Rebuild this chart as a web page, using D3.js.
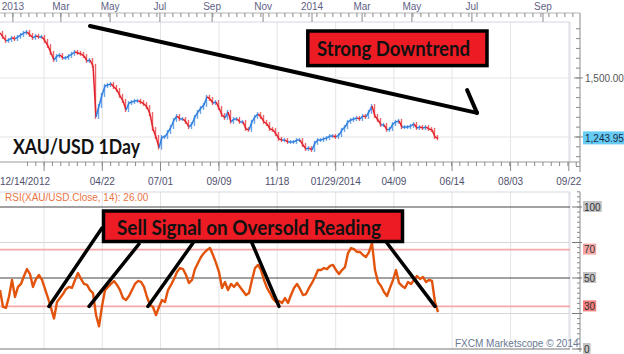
<!DOCTYPE html>
<html>
<head>
<meta charset="utf-8">
<script src="https://cdn.jsdelivr.net/npm/d3@7"></script>
<style>
  body { margin: 0; background: #fff; }
  svg { display: block; }
</style>
</head>
<body>
<div id="chart"></div>
<script>
// daily closes of XAU/USD, sampled every ~2.5 bars (slot = one sample)
const closes = [
  1691, 1674, 1657, 1661, 1670, 1665, 1674, 1682, 1691, 1695,
  1682, 1670, 1678, 1674, 1674, 1657, 1636, 1606, 1576, 1593,
  1597, 1585, 1585, 1593, 1602, 1610, 1606, 1602, 1593, 1572,
  1576, 1551, 1335, 1381, 1428, 1466, 1470, 1475, 1462, 1449,
  1424, 1403, 1364, 1394, 1398, 1403, 1403, 1398, 1390, 1377,
  1347, 1284, 1250, 1205, 1250, 1250, 1271, 1292, 1322, 1339,
  1326, 1326, 1314, 1292, 1305, 1335, 1356, 1373, 1386, 1420,
  1411, 1394, 1398, 1373, 1343, 1331, 1356, 1314, 1326, 1326,
  1314, 1314, 1284, 1280, 1314, 1335, 1347, 1335, 1314, 1305,
  1284, 1280, 1263, 1242, 1237, 1237, 1229, 1229, 1229, 1237,
  1237, 1216, 1199, 1203, 1195, 1225, 1237, 1237, 1242, 1246,
  1254, 1254, 1250, 1258, 1280, 1292, 1314, 1322, 1326, 1331,
  1326, 1339, 1335, 1356, 1381, 1339, 1322, 1301, 1301, 1280,
  1284, 1305, 1314, 1318, 1292, 1292, 1292, 1297, 1305, 1288,
  1292, 1288, 1292, 1284, 1280, 1250, 1244,
];

// RSI(14) on the same slots
const rsi = [
  41.5, 29.6, 29, 37, 48.6, 36.6, 43.7, 45.8, 51.4, 56.3,
  52.8, 43.7, 49.3, 52.1, 48.6, 42.3, 35.9, 28.9, 21.5, 33.1,
  35.9, 38.7, 42.3, 43.7, 43.0, 48.6, 53.5, 49.3, 45.8, 45.1,
  41.5, 39.4, 24, 16, 30, 41.5, 43.7, 45.8, 47.9, 45.1,
  41.5, 35.9, 34.5, 37.3, 41.5, 45.8, 47.9, 47.2, 43.7, 36.6,
  31.0, 29.6, 23.9, 29.6, 34.5, 33.1, 41.5, 45.1, 49.3, 54.2,
  57.0, 56.3, 52.1, 46.5, 48.6, 56.3, 60.6, 64.8, 67.6, 69.7,
  71.1, 66.2, 60.6, 54.2, 43.0, 47.2, 41.5, 45.8, 43.7, 46.5,
  43.7, 40.8, 38.0, 39.4, 48.6, 57.0, 59.2, 55.6, 48.6, 43.0,
  39.4, 35.2, 33.1, 33.8, 32.4, 35.9, 32.4, 38.0, 43.0, 45.8,
  42.3, 38.0, 38.7, 43.0, 46.5, 50.7, 55.6, 55.6, 57.0, 56.3,
  58.5, 59.2, 55.6, 52.8, 55.6, 57.7, 67.6, 71.1, 70.4, 68.3,
  68.3, 66.2, 64.8, 68.3, 74.6, 55.6, 47.2, 44.4, 40.1, 37.3,
  43.0, 48.6, 55.6, 46.5, 44.4, 43.0, 47.2, 45.8, 48.6, 51.4,
  49.3, 50.7, 47.2, 48.6, 47.9, 33.1, 26.0,
];

const monthSlots = [4.3, 20.3, 36.7, 53.3, 70.7, 87.7, 104, 120.7, 137.3, 157.3, 181];
const monthLabels = ['2013', 'Mar', 'May', 'Jul', 'Sep', 'Nov', '2014', 'Mar', 'May', 'Jul', 'Sep'];

const gridSlots = [14.7, 34.1, 53.5, 73.0, 92.4, 111.9, 131.3, 150.7, 170.2, 189.6];
const dateSlots = [0, 34.1, 53.5, 73.0, 92.4, 111.9, 131.3, 150.7, 170.2, 189.6];
const dateLabels = ['12/14/2012', '04/22', '07/01', '09/09', '11/18', '01/29/2014', '04/09', '06/14', '08/03', '09/22'];

const priceGrid = [1250, 1500];
const lastPrice = 1243.95;
const lastRsi = 26.0;

const rsiLevels = [100, 75, 70, 50, 30, 25, 0];
const rsiLabels = [100, 70, 50, 30, 0];

// annotation anchors (slot, value)
const trendFrom = [30, 1720];
const trendTo = [159, 1352];
const trendHead = [155.7, 1449];
const signalSlots = [16.3, 29.7, 49.3, 93, 145];
const signalTops = [[102, 228], [139, 244], [193, 243], [252, 243], [387, 243]];

const W = 624, H = 354;
const FONT = '"Liberation Sans", Arial, sans-serif';
const BOLD = 'Lato, "Open Sans", sans-serif';

const svg = d3
  .select('#chart')
  .append('svg')
  .attr('width', W)
  .attr('height', H)
  .style('font-family', FONT);

const x = d3.scaleLinear().domain([0, 190]).range([0, 570]);
const yP = d3.scaleLinear().domain([1144, 1737]).range([162, 22]);
const yR = d3.scaleLinear().domain([0, 100]).range([349, 207]);

const PT = 22, PB = 162, RT = 192, RB = 349, PR = 570, AX = 580;

// vertical grid in both panels
[[PT, PB], [RT, RB]].forEach(([t, b]) => {
  svg
    .append('g')
    .selectAll('line')
    .data(gridSlots)
    .enter()
    .append('line')
    .attr('x1', (d) => x(d))
    .attr('x2', (d) => x(d))
    .attr('y1', t)
    .attr('y2', b)
    .attr('stroke', '#e4e4e4');
});

// price horizontal grid
svg
  .append('g')
  .selectAll('line')
  .data(priceGrid)
  .enter()
  .append('line')
  .attr('x1', 0)
  .attr('x2', PR)
  .attr('y1', (d) => yP(d))
  .attr('y2', (d) => yP(d))
  .attr('stroke', '#e4e4e4');

// panel frames
svg.append('line').attr('x1', 0).attr('x2', PR).attr('y1', PT).attr('y2', PT).attr('stroke', '#d3d8e3');
svg.append('line').attr('x1', PR).attr('x2', PR).attr('y1', PT).attr('y2', PB).attr('stroke', '#d3d8e3');
svg.append('line').attr('x1', 0).attr('x2', AX).attr('y1', PB).attr('y2', PB).attr('stroke', '#9a9a9a');
svg.append('line').attr('x1', 0).attr('x2', PR).attr('y1', RT).attr('y2', RT).attr('stroke', '#d3d8e3');
svg.append('line').attr('x1', PR).attr('x2', PR).attr('y1', RT).attr('y2', RB).attr('stroke', '#d3d8e3');

// top month axis
svg.append('line').attr('x1', 0).attr('x2', AX).attr('y1', 13).attr('y2', 13).attr('stroke', '#b5b5b5');
const minorTop = d3.range(monthSlots[0] - 8 / 3, 193, 8 / 3);
svg
  .append('g')
  .selectAll('line')
  .data(minorTop)
  .enter()
  .append('line')
  .attr('x1', (d) => x(d))
  .attr('x2', (d) => x(d))
  .attr('y1', 13)
  .attr('y2', 17)
  .attr('stroke', '#8a8a8a');
svg
  .append('g')
  .selectAll('line')
  .data(monthSlots)
  .enter()
  .append('line')
  .attr('x1', (d) => x(d))
  .attr('x2', (d) => x(d))
  .attr('y1', 13)
  .attr('y2', 22)
  .attr('stroke', '#8a8a8a');
svg
  .append('g')
  .selectAll('text')
  .data(monthSlots)
  .enter()
  .append('text')
  .attr('x', (d) => x(d))
  .attr('y', 10)
  .attr('text-anchor', 'middle')
  .attr('font-size', 10)
  .attr('fill', '#5f5f85')
  .text((d, i) => monthLabels[i]);

// bottom date axis
const step = (gridSlots[1] - gridSlots[0]) / 7;
svg
  .append('g')
  .selectAll('line')
  .data(d3.range(gridSlots[0] - step * 2, 193, step))
  .enter()
  .append('line')
  .attr('x1', (d) => x(d))
  .attr('x2', (d) => x(d))
  .attr('y1', PB)
  .attr('y2', PB + 4)
  .attr('stroke', '#8a8a8a');
svg
  .append('g')
  .selectAll('line')
  .data(gridSlots)
  .enter()
  .append('line')
  .attr('x1', (d) => x(d))
  .attr('x2', (d) => x(d))
  .attr('y1', PB)
  .attr('y2', PB + 9)
  .attr('stroke', '#8a8a8a');
svg
  .append('g')
  .selectAll('text')
  .data(dateSlots)
  .enter()
  .append('text')
  .attr('x', (d, i) => (i === 0 ? 0 : x(d)))
  .attr('y', 185)
  .attr('text-anchor', (d, i) => (i === 0 ? 'start' : 'middle'))
  .attr('font-size', 10)
  .attr('fill', '#4f4f6f')
  .text((d, i) => dateLabels[i]);

// price axis on the right
svg.append('line').attr('x1', AX).attr('x2', AX).attr('y1', 13).attr('y2', 172).attr('stroke', '#8a8a8a');
svg
  .append('g')
  .selectAll('line')
  .data(d3.range(1125, 1740, 250 / 6).filter((v) => yP(v) > 14 && yP(v) < 170))
  .enter()
  .append('line')
  .attr('x1', AX - 4)
  .attr('x2', AX)
  .attr('y1', (d) => yP(d))
  .attr('y2', (d) => yP(d))
  .attr('stroke', '#8a8a8a');
svg
  .append('g')
  .selectAll('line')
  .data(priceGrid)
  .enter()
  .append('line')
  .attr('x1', AX - 6)
  .attr('x2', AX + 3)
  .attr('y1', (d) => yP(d))
  .attr('y2', (d) => yP(d))
  .attr('stroke', '#8a8a8a');
svg
  .append('text')
  .attr('x', 585)
  .attr('y', yP(1500) + 4)
  .attr('font-size', 10)
  .attr('fill', '#555')
  .text(d3.format(',.2f')(1500));
svg
  .append('rect')
  .attr('x', 583)
  .attr('y', yP(lastPrice) - 7)
  .attr('width', 41)
  .attr('height', 13)
  .attr('fill', '#66ccf5');
svg
  .append('text')
  .attr('x', 585)
  .attr('y', yP(lastPrice) + 4)
  .attr('font-size', 10)
  .attr('fill', '#1a2a44')
  .text(d3.format(',.2f')(lastPrice));

// price bars: segment from previous close plus a thin bar at each close
const bars = svg.append('g');
const BLUE = '#2f7fe0', RED = '#e3232b';
closes.forEach((c, i) => {
  if (i === 0) return;
  const p = closes[i - 1];
  const col = c >= p ? BLUE : RED;
  bars
    .append('line')
    .attr('x1', x(i - 1))
    .attr('y1', yP(p))
    .attr('x2', x(i))
    .attr('y2', yP(c))
    .attr('stroke', col)
    .attr('stroke-width', 1.5);
  const top = Math.min(yP(c), yP(p)), bot = Math.max(yP(c), yP(p));
  bars
    .append('line')
    .attr('x1', x(i) - 0.5)
    .attr('x2', x(i) - 0.5)
    .attr('y1', top - 2)
    .attr('y2', bot + 2)
    .attr('stroke', col)
    .attr('stroke-opacity', 0.7)
    .attr('stroke-width', 1.4);
});

// RSI panel levels
const levelStyle = {
  100: ['#444', 1],
  75: ['#d6d6d6', 1],
  70: ['#f6a9a9', 1.8],
  50: ['#444', 1],
  30: ['#f6a9a9', 1.8],
  25: ['#d6d6d6', 1],
  0: ['#777', 1.2],
};
svg
  .append('g')
  .selectAll('line')
  .data(rsiLevels)
  .enter()
  .append('line')
  .attr('x1', 0)
  .attr('x2', PR)
  .attr('y1', (d) => yR(d))
  .attr('y2', (d) => yR(d))
  .attr('stroke', (d) => levelStyle[d][0])
  .attr('stroke-width', (d) => levelStyle[d][1]);

// RSI axis
svg.append('line').attr('x1', AX).attr('x2', AX).attr('y1', RT).attr('y2', 352).attr('stroke', '#8a8a8a');
svg
  .append('g')
  .selectAll('line')
  .data(d3.range(0, 111, 25 / 7))
  .enter()
  .append('line')
  .attr('x1', AX - 3)
  .attr('x2', AX)
  .attr('y1', (d) => yR(d))
  .attr('y2', (d) => yR(d))
  .attr('stroke', '#8a8a8a');
svg
  .append('g')
  .selectAll('line')
  .data([0, 25, 50, 75, 100])
  .enter()
  .append('line')
  .attr('x1', AX - 8)
  .attr('x2', AX + 2)
  .attr('y1', (d) => yR(d))
  .attr('y2', (d) => yR(d))
  .attr('stroke', '#777');
const labelBg = { 100: '#c4c4c4', 70: '#f7a6a6', 50: '#c4c4c4', 30: '#f47f7f', 0: '#c4c4c4' };
const rl = svg
  .append('g')
  .selectAll('g')
  .data(rsiLabels)
  .enter()
  .append('g')
  .attr('transform', (d) => `translate(583,${yR(d)})`);
rl.append('rect')
  .attr('x', 0)
  .attr('y', -6)
  .attr('width', (d) => String(d).length * 5.6 + 2)
  .attr('height', 11)
  .attr('fill', (d) => labelBg[d]);
rl.append('text')
  .attr('x', 1)
  .attr('y', 3.5)
  .attr('font-size', 10)
  .attr('fill', '#333')
  .text((d) => d);

// RSI line
svg
  .append('path')
  .datum(rsi)
  .attr('fill', 'none')
  .attr('stroke', '#e2530c')
  .attr('stroke-width', 2.4)
  .attr('stroke-linejoin', 'round')
  .attr('d', d3.line().x((d, i) => x(i)).y((d) => yR(d)));

svg
  .append('text')
  .attr('x', 5)
  .attr('y', 201)
  .attr('font-size', 10)
  .attr('fill', '#ea7443')
  .text(`RSI(XAU/USD.Close, 14): ${lastRsi.toFixed(2)}`);

svg
  .append('text')
  .attr('x', 455)
  .attr('y', 347)
  .attr('font-size', 10)
  .attr('fill', '#6a7892')
  .text('FXCM Marketscope © 2014');

// annotations
const ann = svg.append('g').attr('stroke', '#000').attr('stroke-linecap', 'round').attr('fill', 'none');
ann
  .append('line')
  .attr('x1', x(trendFrom[0]))
  .attr('y1', yP(trendFrom[1]))
  .attr('x2', x(trendTo[0]))
  .attr('y2', yP(trendTo[1]))
  .attr('stroke-width', 4);
ann
  .append('line')
  .attr('x1', x(trendHead[0]))
  .attr('y1', yP(trendHead[1]))
  .attr('x2', x(trendTo[0]))
  .attr('y2', yP(trendTo[1]))
  .attr('stroke-width', 4);
ann
  .selectAll('line.sig')
  .data(signalSlots)
  .enter()
  .append('line')
  .attr('class', 'sig')
  .attr('x1', (d, i) => signalTops[i][0])
  .attr('y1', (d, i) => signalTops[i][1])
  .attr('x2', (d) => x(d))
  .attr('y2', yR(30))
  .attr('stroke-width', 3.5);

const box = (bx, by, bw, bh, label, tx, ty, tl) => {
  svg
    .append('rect')
    .attr('x', bx)
    .attr('y', by)
    .attr('width', bw)
    .attr('height', bh)
    .attr('fill', '#ed1c24')
    .attr('stroke', '#000')
    .attr('stroke-width', 3.5);
  svg
    .append('text')
    .attr('x', tx)
    .attr('y', ty)
    .attr('font-family', BOLD)
    .attr('font-weight', 'bold')
    .attr('font-size', 20)
    .attr('fill', '#111')
    .attr('textLength', tl)
    .attr('lengthAdjust', 'spacingAndGlyphs')
    .text(label);
};
box(307.8, 31, 179.2, 34.6, 'Strong Downtrend', 317, 55.5, 153);
box(103.5, 211, 299, 30.5, 'Sell Signal on Oversold Reading', 117, 235, 264);

svg
  .append('text')
  .attr('x', 13)
  .attr('y', 154)
  .attr('font-family', BOLD)
  .attr('font-weight', 'bold')
  .attr('font-size', 20)
  .attr('fill', '#111')
  .attr('textLength', 127)
  .attr('lengthAdjust', 'spacingAndGlyphs')
  .text('XAU/USD 1Day');
</script>
</body>
</html>
